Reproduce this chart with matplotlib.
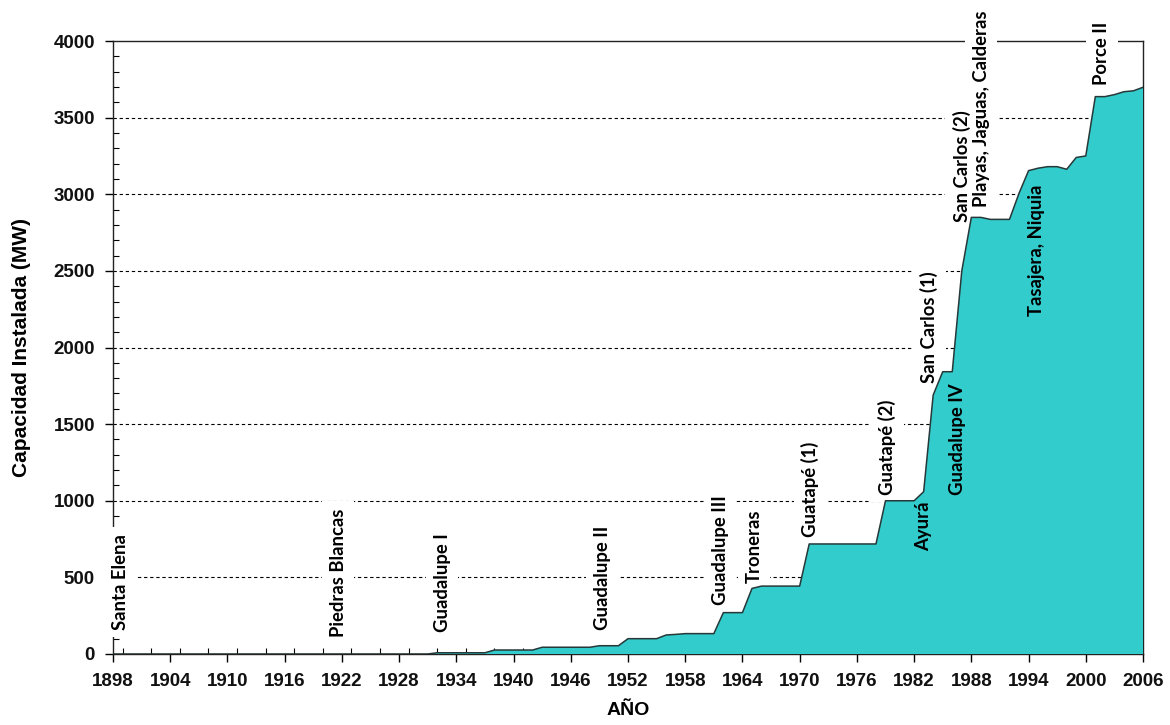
import matplotlib
matplotlib.use("Agg")
import matplotlib.pyplot as plt
from matplotlib.ticker import MultipleLocator

# ---- data ----
years = list(range(1898, 2007))
capacity_known = {
    1931: 0, 1932: 8, 1937: 8, 1938: 26, 1942: 26, 1943: 44, 1948: 44,
    1949: 54, 1951: 54, 1952: 100, 1955: 100, 1956: 124, 1957: 128,
    1958: 133, 1961: 133, 1962: 270, 1964: 270, 1965: 428, 1966: 443,
    1970: 443, 1971: 718, 1978: 718, 1979: 1000, 1982: 1000, 1983: 1059,
    1984: 1690, 1985: 1842, 1986: 1842, 1987: 2500, 1988: 2849, 1989: 2849,
    1990: 2836, 1991: 2836, 1992: 2836, 1993: 3006, 1994: 3154, 1995: 3170,
    1996: 3180, 1997: 3180, 1998: 3163, 1999: 3240, 2000: 3250, 2001: 3637,
    2002: 3637, 2003: 3650, 2004: 3669, 2005: 3675, 2006: 3698,
}
capacity = []
last = 0
for y in years:
    if y in capacity_known:
        last = capacity_known[y]
    capacity.append(last)

plant_names = ["Santa Elena", "Piedras Blancas", "Guadalupe I", "Guadalupe II",
               "Guadalupe III", "Troneras", "Guatapé (1)", "Guatapé (2)",
               "San Carlos (1)", "San Carlos (2)", "Playas, Jaguas, Calderas",
               "Porce II", "Ayurá", "Guadalupe IV", "Tasajera, Niquia"]
plant_years = [1898.75, 1921.6, 1932.5, 1949.3, 1961.7, 1965.2, 1971.1, 1979.2,
               1983.6, 1987.0, 1989.05, 2001.7, 1983.0, 1986.6, 1994.8]
plant_y = [157, 111, 146, 157, 320, 461, 765, 1037,
           1768, 2821, 2919, 3713, 994, 1037, 3060]
plant_inside = [False]*12 + [True, True, True]

xticks = list(range(1898, 2007, 6))
yticks = list(range(0, 4001, 500))

# ---- figure ----
fig = plt.figure(figsize=(11.7, 7.25), dpi=100)
ax = fig.add_axes([113/1170, 1-654/725, (1143-113)/1170, (654-41)/725])

labfont = ["Lato", "DejaVu Sans"]

ax.fill_between(years, capacity, 0, facecolor="#33CCCC", edgecolor="none", zorder=4)
ax.plot(years, capacity, color="#263838", lw=1.1, zorder=4.5)

ax.set_xlim(1898, 2006)
ax.set_ylim(0, 4000)
ax.set_xticks(xticks)
ax.set_yticks(yticks)
ax.xaxis.set_minor_locator(MultipleLocator(3))
ax.yaxis.set_minor_locator(MultipleLocator(100))
ax.tick_params(axis="both", which="major", direction="out", length=6, width=1, color="black")
ax.tick_params(axis="both", which="minor", direction="in", length=4, width=0.8, color="black")
ax.tick_params(axis="x", which="major", pad=8)
ax.tick_params(axis="y", which="major", pad=7)
for lab in ax.get_xticklabels() + ax.get_yticklabels():
    lab.set_fontfamily("Liberation Sans")
    lab.set_fontweight("bold")
    lab.set_fontsize(13.5)
    lab.set_color("#111111")

for g in yticks[1:-1]:
    ax.axhline(g, color="black", lw=0.8, ls=(0, (3, 2.5)), zorder=1)

for s in ax.spines.values():
    s.set_linewidth(1.0)
    s.set_color("#222222")

ax.set_ylabel("Capacidad Instalada (MW)", family="Liberation Sans", weight="bold",
              size=15, labelpad=16)
ax.set_xlabel("AÑO", family="Liberation Sans", weight="bold", size=14, labelpad=8)

for name, xv, yv, inside in zip(plant_names, plant_years, plant_y, plant_inside):
    va = "top" if name in ("Ayurá", "Tasajera, Niquia") else "bottom"
    if not inside:
        ax.text(xv, yv, name, rotation=90, ha="center", va=va, family=labfont,
                weight="bold", size=13.3, color="white", zorder=3,
                bbox=dict(boxstyle="square,pad=0.4", fc="white", ec="none"),
                clip_on=False)
    ax.text(xv, yv, name, rotation=90, ha="center", va=va, family=labfont,
            weight="bold", size=13.3, color="black", zorder=6, clip_on=False)

fig.savefig("out.png", dpi=100)
